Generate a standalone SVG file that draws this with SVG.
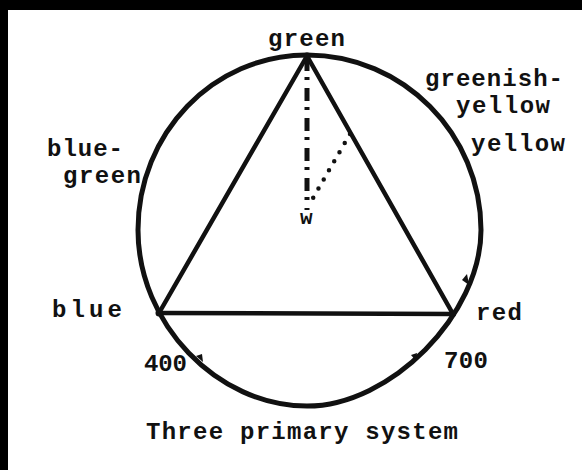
<svg xmlns="http://www.w3.org/2000/svg" width="582" height="470" viewBox="0 0 582 470">
  <style>
    .lbl { font-family: "Liberation Mono", "Courier New", "DejaVu Sans Mono", monospace; font-weight: bold; font-size: 24px; fill: #111; }
    .edge { stroke: #111; stroke-width: 4.5; stroke-linecap: round; fill: none; }
    .ring { stroke: #111; stroke-width: 5; fill: none; }
    .tick { fill: #111; }
  </style>
  <rect x="0" y="0" width="582" height="470" fill="#ffffff"/>
  <rect x="0" y="0" width="582" height="10" fill="#000000"/>
  <rect x="0" y="0" width="8" height="470" fill="#000000"/>

  <g id="spectrum-circle">
    <path class="ring" d="M307,55 C403,55 481,134 481,230 C481,314.5 390.5,406 307,406 C216.9,406 138,323.3 138,230 C138,133.3 213.1,55 307,55 Z"/>
    <polygon class="tick" points="467,274 462,280 469,285"/>
    <polygon class="tick" points="411,355 417,353 416,361"/>
    <polygon class="tick" points="196,356 202,354 203,362"/>
  </g>

  <g id="connectors">
    <line class="edge" x1="307" y1="56" x2="159" y2="313"/>
    <line class="edge" x1="307" y1="56" x2="453" y2="314"/>
    <line class="edge" x1="159" y1="313" x2="453" y2="314" stroke-width="3.5"/>
    <line x1="307" y1="58" x2="307" y2="210" stroke="#111" stroke-width="5" stroke-dasharray="13 6 3 8"/>
    <line x1="350" y1="134" x2="313" y2="198" stroke="#111" stroke-width="4.5" stroke-linecap="round" stroke-dasharray="0 10.5"/>
  </g>

  <g id="node-green">
    <circle cx="307" cy="56" r="3.5" fill="#111"/>
    <text class="lbl" x="268" y="46" textLength="77" lengthAdjust="spacing">green</text>
  </g>
  <g id="node-greenish-yellow">
    <text class="lbl" x="425" y="86" textLength="138" lengthAdjust="spacing">greenish-</text>
    <text class="lbl" x="456" y="113" textLength="94" lengthAdjust="spacing">yellow</text>
  </g>
  <g id="node-yellow">
    <text class="lbl" x="471" y="151" textLength="94" lengthAdjust="spacing">yellow</text>
  </g>
  <g id="node-blue-green">
    <text class="lbl" x="47" y="156" textLength="76" lengthAdjust="spacing">blue-</text>
    <text class="lbl" x="63" y="183" textLength="78" lengthAdjust="spacing">green</text>
  </g>
  <g id="node-blue">
    <circle cx="159" cy="313" r="3.5" fill="#111"/>
    <text class="lbl" x="52" y="317" textLength="70" lengthAdjust="spacing">blue</text>
  </g>
  <g id="node-red">
    <circle cx="453" cy="314" r="3" fill="#111"/>
    <text class="lbl" x="476" y="320" textLength="46" lengthAdjust="spacing">red</text>
  </g>
  <g id="node-400">
    <text class="lbl" x="144" y="371" textLength="43" lengthAdjust="spacing">400</text>
  </g>
  <g id="node-700">
    <text class="lbl" x="444" y="368" textLength="44" lengthAdjust="spacing">700</text>
  </g>
  <g id="node-w">
    <text class="lbl" x="300" y="224" style="font-size:21px">w</text>
  </g>
  <g id="caption">
    <text class="lbl" x="146" y="439" textLength="312" lengthAdjust="spacing">Three primary system</text>
  </g>
</svg>
